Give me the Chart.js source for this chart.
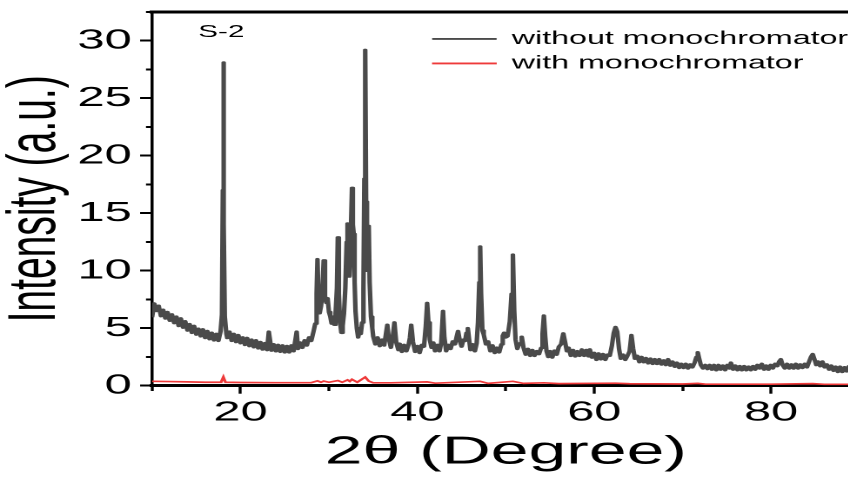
<!DOCTYPE html>
<html>
<head>
<meta charset="utf-8">
<script src="https://cdn.jsdelivr.net/npm/chart.js@4.4.0/dist/chart.umd.min.js"></script>
<style>
html,body{margin:0;padding:0;overflow:hidden;background:#fff;width:848px;height:477px;}
#wrap{position:absolute;left:0;top:0;width:494px;height:477px;transform:scaleX(1.74);transform-origin:0 0;}
#c{position:absolute;left:0;top:0;}
#s2{position:absolute;left:114px;top:22px;font:17px 'Liberation Sans',Arial,sans-serif;color:#000;white-space:nowrap;}
</style>
</head>
<body>
<div id="wrap"><canvas id="c" width="494" height="477"></canvas><div id="s2">S-2</div></div>
<script>
// ---- data ----
const seriesNames = ['without monochromator', 'with monochromator'];

// 2θ (degree) sampling for the "without monochromator" pattern
const angles = [
  10.0,10.25,10.5,10.75,11.0,11.25,11.5,11.75,
  12.0,12.25,12.5,12.75,13.0,13.25,13.5,13.75,
  14.0,14.25,14.5,14.75,15.0,15.25,15.5,15.75,
  16.0,16.25,16.5,16.75,17.0,17.25,17.5,17.75,
  17.9,18.0,18.06,18.13,18.22,18.4,18.5,18.75,
  19.0,19.25,19.5,19.75,20.0,20.25,20.5,20.75,
  21.0,21.25,21.5,21.75,22.0,22.25,22.5,22.75,
  23.0,23.2,23.5,23.75,24.0,24.25,24.5,24.75,
  25.0,25.25,25.5,25.75,26.0,26.35,26.5,26.75,
  27.0,27.25,27.5,27.75,28.0,28.25,28.45,28.6,
  28.7,28.82,28.95,29.1,29.25,29.4,29.55,29.7,
  29.85,30.0,30.15,30.3,30.45,30.6,30.75,30.9,
  31.0,31.12,31.25,31.4,31.55,31.7,31.85,32.0,
  32.1,32.2,32.32,32.45,32.6,32.7,32.8,32.9,
  33.0,33.15,33.3,33.45,33.6,33.75,33.9,34.0,
  34.1,34.2,34.3,34.4,34.5,34.6,34.75,34.9,
  35.0,35.25,35.5,35.75,36.0,36.25,36.45,36.6,
  36.75,37.0,37.2,37.4,37.6,37.85,38.0,38.25,
  38.5,38.75,39.0,39.15,39.3,39.5,39.75,40.0,
  40.25,40.5,40.75,40.95,41.1,41.25,41.4,41.6,
  41.8,42.0,42.25,42.5,42.7,42.9,43.05,43.25,
  43.5,43.75,44.0,44.25,44.45,44.6,44.8,45.0,
  45.2,45.4,45.55,45.7,45.85,46.0,46.25,46.5,
  46.7,46.85,47.0,47.1,47.2,47.35,47.5,47.75,
  48.0,48.25,48.5,48.75,49.0,49.25,49.5,49.65,
  49.8,50.0,50.2,50.45,50.65,50.8,50.95,51.1,
  51.3,51.5,51.65,51.8,52.0,52.25,52.5,52.75,
  53.0,53.25,53.5,53.75,54.0,54.15,54.3,54.45,
  54.6,54.8,55.0,55.25,55.5,55.75,56.0,56.25,
  56.5,56.7,56.9,57.1,57.35,57.6,57.85,58.1,
  58.35,58.6,58.85,59.1,59.35,59.5,59.75,60.0,
  60.25,60.5,60.75,61.0,61.25,61.5,61.75,62.0,
  62.2,62.4,62.6,62.8,63.0,63.25,63.5,63.75,
  64.0,64.2,64.4,64.6,64.85,65.1,65.35,65.6,
  65.85,66.1,66.35,66.6,66.85,67.1,67.35,67.6,
  67.85,68.1,68.35,68.6,68.85,69.1,69.35,69.6,
  69.85,70.1,70.35,70.6,70.85,71.1,71.35,71.55,
  71.7,71.85,72.05,72.3,72.55,72.8,73.05,73.3,
  73.55,73.8,74.05,74.3,74.55,74.8,75.05,75.3,
  75.45,75.7,75.95,76.2,76.45,76.7,76.95,77.2,
  77.45,77.7,77.95,78.2,78.45,78.7,78.95,79.2,
  79.45,79.7,79.95,80.2,80.45,80.7,80.9,81.1,
  81.3,81.55,81.8,82.05,82.3,82.55,82.8,83.05,
  83.3,83.55,83.8,84.05,84.3,84.5,84.7,84.9,
  85.1,85.3,85.55,85.8,86.05,86.3,86.55,86.8,
  87.05,87.3,87.55,87.8,88.05,88.3,88.55,88.8,
  89.05,89.3,89.55,89.8,90.0
];

// intensity (a.u.) without monochromator
const withoutMono = [
  5.95,7.15,6.5,6.95,6.05,6.6,5.85,6.4,
  5.65,6.2,5.45,6.0,5.2,5.85,5.05,5.6,
  4.8,5.35,4.6,5.2,4.45,4.95,4.3,4.9,
  4.15,4.75,4.05,4.6,3.95,4.5,3.9,4.75,
  6.2,17.0,28.1,14.0,6.0,4.5,4.15,4.7,
  3.9,4.5,3.8,4.4,3.7,4.2,3.55,4.15,
  3.45,4.0,3.35,3.95,3.25,3.8,3.15,3.7,
  3.1,4.7,3.05,3.6,3.0,3.55,2.95,3.5,
  2.9,3.45,2.9,3.5,3.0,4.7,3.2,3.75,
  3.3,3.95,3.5,4.2,3.9,4.7,5.4,8.0,
  11.0,7.5,6.3,6.9,8.0,10.9,7.8,7.2,
  7.6,6.4,6.0,5.4,6.0,5.3,6.3,8.5,
  12.9,8.0,5.6,4.6,5.2,6.3,8.5,12.5,
  14.1,11.5,9.5,12.5,17.2,14.0,13.2,9.0,
  6.5,5.0,4.2,4.8,4.5,5.5,8.5,18.0,
  29.2,16.0,10.0,11.5,13.9,9.0,6.0,5.0,
  4.3,3.6,4.2,3.45,4.0,3.5,4.55,5.3,
  4.2,3.3,4.15,5.5,3.8,3.1,3.65,2.95,
  3.55,3.0,3.55,4.15,5.3,3.8,2.95,3.45,
  2.85,3.55,3.4,5.2,7.2,5.5,4.0,3.3,
  3.75,3.0,3.55,3.0,3.75,6.5,4.2,3.0,
  3.55,3.2,3.85,3.6,4.3,4.75,3.9,3.4,
  4.0,3.9,4.6,5.0,4.0,3.1,3.6,3.0,
  3.7,5.5,9.0,12.1,8.0,4.8,4.45,3.6,
  3.85,3.0,3.5,2.85,3.3,2.9,3.6,4.35,
  4.6,4.2,4.3,5.6,8.0,11.4,6.5,4.0,
  3.2,3.6,3.7,4.25,3.3,2.7,3.2,2.6,
  3.1,2.6,3.0,2.75,3.3,4.5,6.1,4.3,
  3.0,2.5,3.0,2.45,3.05,2.7,3.4,3.6,
  4.55,3.8,3.0,3.3,2.6,3.1,2.55,3.0,
  2.6,3.15,2.6,3.1,2.55,3.15,2.45,2.85,
  2.25,2.8,2.3,2.75,2.25,2.7,2.6,3.5,
  4.6,5.1,4.7,3.2,2.35,2.7,2.25,2.6,
  3.0,4.4,3.2,2.35,2.6,2.05,2.5,2.05,
  2.4,1.95,2.35,1.9,2.3,1.9,2.3,1.85,
  2.2,1.8,2.3,1.75,2.1,1.65,2.0,1.55,
  1.9,1.55,1.9,1.5,1.85,1.6,2.0,2.5,
  2.9,2.4,1.8,1.5,1.8,1.45,1.8,1.4,
  1.8,1.35,1.8,1.4,1.75,1.35,1.8,1.5,
  2.0,1.4,1.75,1.35,1.7,1.35,1.7,1.35,
  1.65,1.35,1.7,1.4,1.8,1.5,1.9,1.4,
  1.75,1.4,1.8,1.5,1.9,1.7,2.1,2.3,
  1.8,1.5,1.9,1.5,1.85,1.5,1.9,1.5,
  1.85,1.55,1.9,1.6,2.1,2.5,2.75,2.3,
  1.8,2.1,1.7,2.1,1.6,1.85,1.4,1.75,
  1.3,1.65,1.2,1.65,1.2,1.6,1.25,1.7,
  1.25,1.6,1.3,1.6,1.4
];

// 2θ sampling and intensity with monochromator
const monoAngles = [10,12,14,16,17.8,18.06,18.3,20,24,28,28.7,29.1,29.4,30,31.0,31.5,32.1,32.35,32.6,33.2,34.1,34.5,35,37,41.1,42,47.1,48,50.8,52,54.3,56,62.4,64,70,71.7,72.5,80,84.7,86,90];
const withMono   = [0.38,0.36,0.33,0.3,0.3,0.75,0.3,0.28,0.26,0.27,0.42,0.3,0.4,0.3,0.45,0.3,0.5,0.38,0.55,0.3,0.75,0.4,0.25,0.25,0.33,0.22,0.38,0.2,0.38,0.2,0.25,0.18,0.22,0.17,0.15,0.2,0.14,0.13,0.18,0.12,0.12];

// axis tick values
const xMajorTicks = [20, 40, 60, 80];
const yMajorStep = 5;

// ---- chart ----
const FONT = "'Liberation Sans', Arial, Helvetica, sans-serif";
const toPoints = (xs, ys) => xs.map((x, i) => ({x: x, y: ys[i]}));

const placeLegend = {
  id: 'placeLegend',
  afterLayout(chart) {
    const lg = chart.legend;
    if (!lg) return;
    const w = lg.width, h = lg.height;
    lg.left = 242.9; lg.top = 23.7;
    lg.right = lg.left + w; lg.bottom = lg.top + h;
  }
};

new Chart(document.getElementById('c'), {
  type: 'line',
  data: {
    datasets: [
      {label: seriesNames[0], data: toPoints(angles, withoutMono), borderColor: '#4a4a4a', backgroundColor: '#4a4a4a',
       borderWidth: 2.6, borderJoinStyle: 'round', pointRadius: 0, tension: 0},
      {label: seriesNames[1], data: toPoints(monoAngles, withMono), borderColor: '#ee3a3a', backgroundColor: '#ee3a3a',
       borderWidth: 1.7, pointRadius: 0, tension: 0}
    ]
  },
  options: {
    responsive: false,
    animation: false,
    devicePixelRatio: 2,
    layout: {padding: 0},
    plugins: {
      tooltip: {enabled: false},
      legend: {
        position: 'chartArea', align: 'start',
        labels: {boxWidth: 36, boxHeight: 0.6, padding: 6, color: '#000', font: {family: FONT, size: 18.5},
                 generateLabels: (chart) => Chart.defaults.plugins.legend.labels.generateLabels(chart)
                   .map((l) => Object.assign(l, {lineWidth: 1.2}))}
      }
    },
    scales: {
      x: {
        type: 'linear', position: 'bottom', min: 10, max: 90,
        border: {display: true, color: '#000', width: 3},
        grid: {drawOnChartArea: false, tickColor: '#000', tickLength: 8, tickWidth: 1.7,
               tickBorderDash: (c) => (xMajorTicks.includes(c.tick && c.tick.value) ? [] : [4, 100])},
        ticks: {stepSize: 10, includeBounds: false, autoSkip: false, maxRotation: 0, padding: 2.5, color: '#000',
                font: {family: FONT, size: 28},
                callback: (v) => (xMajorTicks.includes(v) ? String(v) : '')},
        title: {display: true, text: '2θ (Degree)', color: '#000', font: {family: FONT, size: 39, lineHeight: 1},
                padding: {top: 0, bottom: 5}},
        afterFit: (s) => { s.height = 91.3; s.paddingLeft = 0; s.paddingRight = 0; }
      },
      xTop: {
        type: 'linear', position: 'top', min: 10, max: 90,
        border: {display: true, color: '#000', width: 3},
        grid: {display: true, drawOnChartArea: false, drawTicks: false},
        ticks: {display: false},
        afterFit: (s) => { s.height = 12; s.paddingLeft = 0; s.paddingRight = 0; }
      },
      y: {
        type: 'linear', min: 0, max: 32.5,
        border: {display: true, color: '#000', width: 1.75},
        grid: {drawOnChartArea: false, tickColor: '#000', tickLength: 6.9, tickWidth: 2,
               tickBorderDash: (c) => (c.tick && Math.abs(c.tick.value % yMajorStep) < 1e-6 ? [] : [0, 3.4, 20, 0])},
        ticks: {stepSize: 2.5, includeBounds: false, autoSkip: false, padding: 4.8, color: '#000',
                font: {family: FONT, size: 28},
                callback: (v) => (Math.abs(v % yMajorStep) < 1e-6 ? String(v) : '')},
        title: {display: true, text: 'Intensity (a.u.)', color: '#000', font: {family: FONT, size: 39, lineHeight: 1},
                padding: {top: 1, bottom: 0}},
        afterFit: (s) => { s.width = 87.4; s.paddingTop = 0; s.paddingBottom = 0; }
      }
    }
  },
  plugins: [placeLegend]
});
</script>
</body>
</html>
